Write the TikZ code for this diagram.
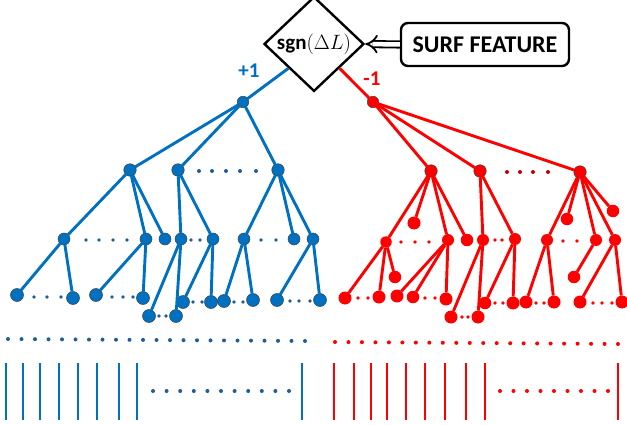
\documentclass[tikz,border=0pt]{standalone}
\usepackage{fontspec}
\newfontfamily\lblfont{Carlito}
\usetikzlibrary{shapes.geometric,arrows.meta}
\definecolor{treeblue}{HTML}{0070C0}
\definecolor{dotblue}{HTML}{1F5D96}
\definecolor{treered}{HTML}{FF0000}
\definecolor{dotred}{HTML}{C00000}
\definecolor{rim}{HTML}{404040}
\begin{document}
\begin{tikzpicture}[x=1pt,y=-1pt,
  bnode/.style={circle, inner sep=0pt, outer sep=0pt, fill=treeblue, draw=rim, line width=0.5pt, minimum size=#1},
  bnode/.default=12pt,
  rnode/.style={circle, inner sep=0pt, outer sep=0pt, fill=treered, minimum size=#1},
  rnode/.default=12.5pt,
  rhub/.style={rnode=12.5pt, draw=rim, line width=0.5pt},
  bedge/.style={draw=treeblue, line width=2.9pt},
  redge/.style={draw=treered, line width=2.9pt},
  bbar/.style={draw=treeblue, line width=2.6pt},
  rbar/.style={draw=treered, line width=2.6pt},
]
\useasboundingbox (0,0) rectangle (627,425);

% decision node and feature box
\node[diamond, draw=black, line width=2.4pt, minimum width=100pt, minimum height=84pt, inner sep=0pt]
  (sgn) at (314,44) {\fontsize{21}{24}\selectfont\lblfont\bfseries sgn$(\Delta L)$};
\node[draw=black, line width=2.4pt, rounded corners=7pt, minimum width=168pt, minimum height=43pt, inner sep=0pt]
  (surf) at (485,44.5) {\fontsize{24}{28}\selectfont\lblfont\bfseries SURF FEATURE};
\draw[double=white, double distance=4.5pt, line width=1.8pt, -{Implies}] (surf.west) -- (sgn.east);

% branch labels
\node[text=treeblue, font=\fontsize{21}{24}\selectfont\lblfont\bfseries] (plus) at (249,71) {+1};
\node[text=treered, font=\fontsize{21}{24}\selectfont\lblfont\bfseries] (minus) at (372,79) {-1};

% ---------- positive subtree ----------
\node[bnode=11.5pt] (broot) at (243,102) {};
\node[bnode=12.5pt] (b1) at (130,170) {};
\node[bnode=12.5pt] (b2) at (178,170) {};
\node[bnode=12.5pt] (b3) at (278,170) {};
\node[bnode] (bA) at (64,239) {};
\node[bnode] (bB) at (146,239) {};
\node[bnode] (bC) at (165,239) {};
\node[bnode] (bD) at (181,239) {};
\node[bnode] (bE) at (213,239) {};
\node[bnode] (bF) at (244,239) {};
\node[bnode] (bG) at (294,239) {};
\node[bnode] (bH) at (313,239) {};
\node[bnode=13pt] (ba1) at (17,295) {};
\node[bnode=13pt] (ba2) at (73,298) {};
\node[bnode=13pt] (bb1) at (96,295) {};
\node[bnode=13pt] (bb2) at (143,298) {};
\node[bnode=13pt] (bc1) at (149,316) {};
\node[bnode=13pt] (bc2) at (176,316) {};
\node[bnode=13pt] (bd1) at (183,302) {};
\node[bnode=13pt] (bd2) at (211,302) {};
\node[bnode=13pt] (be1) at (224,301) {};
\node[bnode=13pt] (be2) at (253,300) {};
\node[bnode=13pt] (bf1) at (277,300) {};
\node[bnode=13pt] (bf2) at (320,300) {};

\draw[bedge] (sgn.south west) -- (broot);
\foreach \c in {b1,b2,b3} \draw[bedge] (broot) -- (\c);
\foreach \c in {bA,bB,bC} \draw[bedge] (b1) -- (\c);
\foreach \c in {bD,bE} \draw[bedge] (b2) -- (\c);
\foreach \c in {bF,bG,bH} \draw[bedge] (b3) -- (\c);
\foreach \c in {ba1,ba2} \draw[bedge] (bA) -- (\c);
\foreach \c in {bb1,bb2} \draw[bedge] (bB) -- (\c);
\foreach \c in {bc1,bc2} \draw[bedge] (bD) -- (\c);
\foreach \c in {bd1,bd2} \draw[bedge] (bE) -- (\c);
\foreach \c in {be1,be2} \draw[bedge] (bF) -- (\c);
\foreach \c in {bf1,bf2} \draw[bedge] (bH) -- (\c);

% ellipsis dots in the positive subtree
\foreach \x in {199,212,226,240,256} \fill[dotblue] (\x,171) circle (2pt);
\foreach \x in {86,99,113,127} \fill[dotblue] (\x,240) circle (1.9pt);
\foreach \x in {191,200} \fill[dotblue] (\x,240) circle (1.9pt);
\foreach \x in {261,276} \fill[dotblue] (\x,240) circle (1.9pt);
\foreach \x in {34,47,61} \fill[dotblue] (\x,297) circle (1.9pt);
\foreach \x in {112,123,133} \fill[dotblue] (\x,297) circle (1.9pt);
\foreach \x in {159,166} \fill[dotblue] (\x,316) circle (1.9pt);
\foreach \x in {193,202} \fill[dotblue] (\x,302) circle (1.9pt);
\foreach \x in {234,243} \fill[dotblue] (\x,302) circle (1.9pt);
\foreach \x in {290,299,310} \fill[dotblue] (\x,301) circle (1.9pt);

% ---------- negative subtree ----------
\node[rnode=11.5pt, draw=rim, line width=0.5pt] (rroot) at (373,102) {};
\node[rhub] (r1) at (431,171) {};
\node[rhub] (r2) at (480,171) {};
\node[rhub] (r3) at (580,172) {};
\node[rnode=11.5pt] (rP) at (386,242) {};
\node[rnode=13pt] (ra) at (414,223) {};
\node[rnode=12pt] (rQ) at (448,240) {};
\node[rnode=12.5pt] (rS) at (467,240) {};
\node[rnode=13pt] (rp1) at (345,298) {};
\node[rnode=13pt] (rp2) at (379,297) {};
\node[rnode=12.5pt] (rp3) at (395,277) {};
\node[rnode=13pt] (rq1) at (397,296) {};
\node[rnode=12.5pt] (rq2) at (413,297) {};
\node[rnode=13pt] (rq3) at (446,299) {};
\node[rnode=12pt] (rT) at (483,240) {};
\node[rnode=12pt] (rU) at (515,239) {};
\node[rnode=13pt] (rt1) at (451,317) {};
\node[rnode=13pt] (rt2) at (478,317) {};
\node[rnode=12.5pt] (ru1) at (485,303) {};
\node[rnode=13pt] (ru2) at (513,303) {};
\node[rnode=12pt] (rV) at (547,240) {};
\node[rnode=12.5pt] (rva) at (567,219) {};
\node[rnode=12pt] (rW) at (596,240) {};
\node[rnode=12pt] (rX) at (615,240) {};
\node[rnode=12.5pt] (rxa) at (613,211) {};
\node[rnode=13pt] (rv1) at (526,302) {};
\node[rnode=13pt] (rv2) at (554,302) {};
\node[rnode=12.5pt] (rwa) at (574,277) {};
\node[rnode=13pt] (rx1) at (580,302) {};
\node[rnode=13pt] (rx2) at (622,302) {};

\draw[redge] (sgn.south east) -- (rroot);
\foreach \c in {r1,r2,r3} \draw[redge] (rroot) -- (\c);
\foreach \c in {rP,ra,rQ,rS} \draw[redge] (r1) -- (\c);
\foreach \c in {rT,rU} \draw[redge] (r2) -- (\c);
\foreach \c in {rV,rva,rW,rX,rxa} \draw[redge] (r3) -- (\c);
\foreach \c in {rp1,rp2,rp3} \draw[redge] (rP) -- (\c);
\foreach \c in {rq1,rq2,rq3} \draw[redge] (rQ) -- (\c);
\foreach \c in {rt1,rt2} \draw[redge] (rT) -- (\c);
\foreach \c in {ru1,ru2} \draw[redge] (rU) -- (\c);
\foreach \c in {rv1,rv2} \draw[redge] (rV) -- (\c);
\draw[redge] (rW) -- (rwa);
\foreach \c in {rx1,rx2} \draw[redge] (rX) -- (\c);

% ellipsis dots in the negative subtree
\foreach \x in {507,520,533,548} \fill[dotred] (\x,172) circle (2pt);
\foreach \x in {401,415,429} \fill[treered] (\x,242) circle (1.9pt);
\foreach \x in {495,502} \fill[treered] (\x,240) circle (1.9pt);
\foreach \x in {563,577} \fill[treered] (\x,241) circle (1.9pt);
\foreach \x in {358,368} \fill[treered] (\x,298) circle (1.9pt);
\foreach \x in {425,435} \fill[treered] (\x,298) circle (1.9pt);
\foreach \x in {462,468} \fill[treered] (\x,317) circle (1.9pt);
\foreach \x in {495,503} \fill[treered] (\x,303) circle (1.9pt);
\foreach \x in {536,544} \fill[treered] (\x,303) circle (1.9pt);
\foreach \x in {593,602,612} \fill[treered] (\x,303) circle (1.9pt);

% ---------- leaves continued: dotted rows ----------
\foreach \i in {0,...,22} \fill[dotblue] ({8+\i*297/22},{339+\i*2/22}) circle (2pt);
\foreach \i in {0,...,21} \fill[treered] ({335+\i*283/21},{342+\i*2/21}) circle (2pt);

% ---------- leaf bars ----------
\foreach \x in {6,23,40,59,78,97,119,137,302} \draw[bbar] (\x,363) -- (\x,420);
\foreach \i in {0,...,10} \fill[dotblue] ({153+\i*136/10},391) circle (2pt);
\foreach \x in {334,354,371,387,406,425,445,466,485,618} \draw[rbar] (\x,363) -- (\x,420);
\foreach \i in {0,...,8} \fill[treered] ({500+\i*108/8},391) circle (2pt);
\end{tikzpicture}
\end{document}
